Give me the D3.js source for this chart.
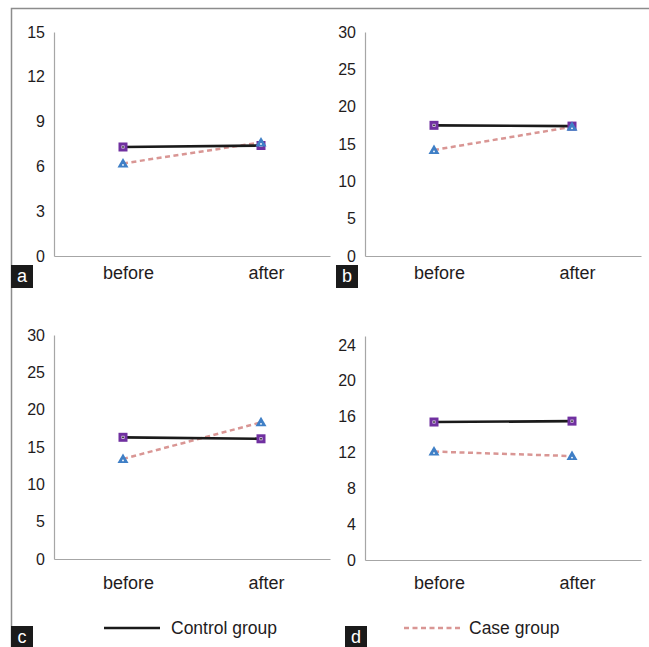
<!DOCTYPE html>
<html>
<head>
<meta charset="utf-8">
<script src="https://cdn.jsdelivr.net/npm/d3@7"></script>
<style>
  body { margin: 0; background: #fff; }
  svg { display: block; font-family: "Liberation Sans", Arial, sans-serif; }
</style>
</head>
<body>
<svg id="chart" width="649" height="647"></svg>
<script>
// values, one entry per panel
const categories = ['before', 'after'];
const panelLetters = ['a', 'b', 'c', 'd'];
const controlGroup = [[7.3, 7.4], [17.5, 17.4], [16.3, 16.1], [15.4, 15.5]];
const caseGroup = [[6.2, 7.6], [14.2, 17.3], [13.4, 18.3], [12.1, 11.6]];
const yMax = [15, 30, 30, 25];
const yStep = [3, 5, 5, 4];
const legendLabels = ['Control group', 'Case group'];

const TEXT = '#1f1c1d';
const AXIS = '#a6a6a6';
const CONTROL = '#1a1a1a';
const CASE = '#d99694';
const PURPLE = '#7030a0';
const BLUE = '#3f7fc6';

// plot boxes for the 2x2 grid
const boxes = [
  { x0: 54, x1: 330, top: 32, bottom: 256, pad: 10, tag: [11, 265] },
  { x0: 365, x1: 641, top: 32, bottom: 256, pad: 10, tag: [336, 265] },
  { x0: 54, x1: 330, top: 335, bottom: 559, pad: 17, tag: [11, 626] },
  { x0: 365, x1: 641, top: 336, bottom: 560, pad: 16, tag: [345, 626] }
];

const svg = d3.select('#chart');

// outer frame (top + left only)
svg.append('path')
  .attr('d', 'M11.5,647V8.5H649')
  .attr('fill', 'none')
  .attr('stroke', '#8c8c8c')
  .attr('stroke-width', 1.5);

boxes.forEach((b, i) => {
  const x = d3.scalePoint().domain(categories).range([b.x0, b.x1]).padding(0.5);
  const y = d3.scaleLinear().domain([0, yMax[i]]).range([b.bottom, b.top]);
  const g = svg.append('g');

  // y axis: line + labels, no tick marks
  const yAxis = g.append('g')
    .attr('transform', `translate(${b.x0},0)`)
    .call(d3.axisLeft(y).tickValues(d3.range(0, yMax[i] + 0.001, yStep[i])).tickSize(0).tickPadding(9));
  yAxis.select('.domain').attr('stroke', AXIS).attr('stroke-width', 1.2);
  yAxis.selectAll('text').attr('fill', TEXT).attr('font-size', 16)
    .attr('font-family', '"Liberation Sans", Arial, sans-serif');

  // x axis
  const xAxis = g.append('g')
    .attr('transform', `translate(0,${b.bottom})`)
    .call(d3.axisBottom(x).tickSize(0).tickPadding(b.pad));
  xAxis.select('.domain').attr('stroke', AXIS).attr('stroke-width', 1.2);
  xAxis.selectAll('text').attr('fill', TEXT).attr('font-size', 18)
    .attr('dx', 5)
    .attr('font-family', '"Liberation Sans", Arial, sans-serif');

  const line = d3.line().x((d, j) => x(categories[j])).y(d => y(d));

  g.append('path')
    .datum(caseGroup[i])
    .attr('d', line)
    .attr('fill', 'none')
    .attr('stroke', CASE)
    .attr('stroke-width', 2.5)
    .attr('stroke-dasharray', '5 3.5');

  g.append('path')
    .datum(controlGroup[i])
    .attr('d', line)
    .attr('fill', 'none')
    .attr('stroke', CONTROL)
    .attr('stroke-width', 2.7);

  // control markers: purple square with dark centre
  controlGroup[i].forEach((v, j) => {
    const cx = x(categories[j]), cy = y(v);
    g.append('rect').attr('x', cx - 4.5).attr('y', cy - 4.5).attr('width', 9).attr('height', 9)
      .attr('fill', PURPLE);
    g.append('rect').attr('x', cx - 1.5).attr('y', cy - 1.5).attr('width', 3).attr('height', 3)
      .attr('fill', '#e8e0ee');
    g.append('rect').attr('x', cx - 0.75).attr('y', cy - 0.75).attr('width', 1.5).attr('height', 1.5)
      .attr('fill', '#111');
  });

  // case markers: blue triangles
  caseGroup[i].forEach((v, j) => {
    const cx = x(categories[j]), cy = y(v);
    g.append('path')
      .attr('d', `M${cx},${cy - 5.5}L${cx + 5.5},${cy + 4}L${cx - 5.5},${cy + 4}Z`)
      .attr('fill', BLUE);
    g.append('circle').attr('cx', cx).attr('cy', cy + 1.5).attr('r', 0.9).attr('fill', '#fff');
  });

  // panel letter tag
  g.append('rect')
    .attr('x', b.tag[0]).attr('y', b.tag[1])
    .attr('width', 22).attr('height', 23)
    .attr('fill', '#1a1a1a');
  g.append('text')
    .attr('x', b.tag[0] + 11).attr('y', b.tag[1] + 17)
    .attr('text-anchor', 'middle')
    .attr('fill', '#fff')
    .attr('font-size', 18)
    .text(panelLetters[i]);
});

// legend
const legend = svg.append('g');
legend.append('line')
  .attr('x1', 104).attr('x2', 160).attr('y1', 628).attr('y2', 628)
  .attr('stroke', CONTROL).attr('stroke-width', 2.7);
legend.append('text')
  .attr('x', 171).attr('y', 628).attr('dy', '0.35em')
  .attr('fill', TEXT).attr('font-size', 17.5)
  .text(legendLabels[0]);
legend.append('line')
  .attr('x1', 404).attr('x2', 462).attr('y1', 628).attr('y2', 628)
  .attr('stroke', CASE).attr('stroke-width', 2.5).attr('stroke-dasharray', '5 3.5');
legend.append('text')
  .attr('x', 469).attr('y', 628).attr('dy', '0.35em')
  .attr('fill', TEXT).attr('font-size', 17.5)
  .text(legendLabels[1]);
</script>
</body>
</html>
